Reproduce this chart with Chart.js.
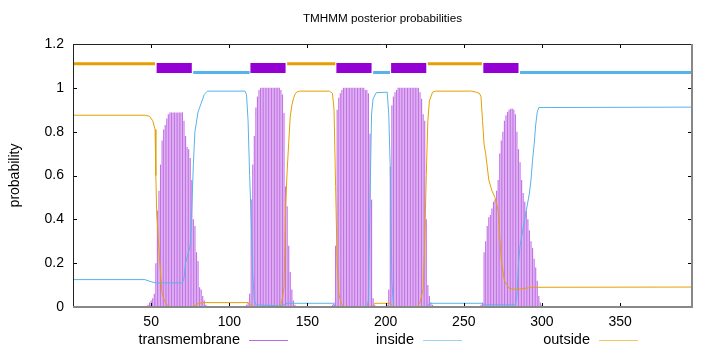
<!DOCTYPE html>
<html>
<head>
<meta charset="utf-8">
<script src="https://cdn.jsdelivr.net/npm/chart.js@4.4.1/dist/chart.umd.min.js"></script>
<style>
  body { margin: 0; background: #fff; }
  canvas { display: block; }
</style>
</head>
<body>
<canvas id="tmhmm" width="720" height="352"></canvas>
<script>
// posterior probabilities
// transmembrane: [first residue, values per residue]
var tmBlocks = [
  [48, [0.01, 0.02, 0.03, 0.04, 0.06, 0.2, 0.44, 0.53, 0.65, 0.76, 0.81, 0.83, 0.86, 0.88,
        0.888, 0.888, 0.888, 0.888, 0.888, 0.888, 0.888, 0.888, 0.888,
        0.85, 0.78, 0.73, 0.72, 0.68, 0.58, 0.40, 0.37, 0.25, 0.21, 0.09, 0.08, 0.05, 0.03, 0.01]],
  [111, [0.01, 0.02, 0.06, 0.49, 0.65, 0.78, 0.91, 0.96, 0.99,
         1, 1, 1, 1, 1, 1, 1, 1, 1, 1, 1, 1, 1,
         0.99, 0.97, 0.885, 0.55, 0.46, 0.28, 0.16, 0.08, 0.03, 0.01]],
  [166, [0.01, 0.02, 0.28, 0.9, 0.955, 0.975, 0.99,
         1, 1, 1, 1, 1, 1, 1, 1, 1, 1, 1, 1, 1, 1,
         0.99, 0.99, 0.975, 0.79, 0.49, 0.04, 0.01]],
  [201, [0.01, 0.08, 0.64, 0.92, 0.96, 0.98, 0.99,
         1, 1, 1, 1, 1, 1, 1, 1, 1, 1, 1, 1, 1, 1,
         0.98, 0.95, 0.88, 0.85, 0.4, 0.1, 0.05, 0.02, 0.01]],
  [261, [0.01, 0.02, 0.25, 0.3, 0.37, 0.41, 0.42, 0.45, 0.48, 0.49, 0.53, 0.58, 0.7, 0.76, 0.8,
         0.85, 0.875, 0.89, 0.9, 0.905, 0.906, 0.9, 0.88, 0.8, 0.72, 0.66, 0.58, 0.52, 0.48,
         0.44, 0.4, 0.35, 0.3, 0.27, 0.22, 0.18, 0.12, 0.05, 0.02, 0.01]]
];

// inside: [residue, probability]
var insideCurve = [
  [0, 0.125], [46, 0.125], [50, 0.115], [53, 0.11], [70, 0.11], [71, 0.13], [72, 0.2],
  [75, 0.28], [76, 0.45], [77, 0.65], [78, 0.8], [80, 0.89], [82, 0.93], [84, 0.97], [86, 0.985],
  [110, 0.985], [111, 0.97], [112, 0.85], [113, 0.6], [114, 0.4], [115, 0.15], [116, 0.03],
  [117, 0.01], [133, 0.005], [135, 0.01], [137, 0.017], [166, 0.017], [168, 0], [188, 0],
  [189, 0.03], [190, 0.49], [191, 0.88], [192, 0.95], [194, 0.978], [201, 0.98], [202, 0.88],
  [203, 0.625], [204, 0.12], [205, 0], [226, 0], [228, 0.017], [262, 0.017], [263, 0.01],
  [283, 0.01], [284, 0.05], [285, 0.2], [286, 0.28], [288, 0.36], [290, 0.44], [292, 0.52],
  [293, 0.58], [294, 0.67], [295, 0.74], [296, 0.83], [297, 0.89], [298, 0.91], [396, 0.912]
];

// outside: [residue, probability]
var outsideCurve = [
  [0, 0.875], [46, 0.875], [49, 0.87], [51, 0.85], [52.5, 0.81], [53, 0.6], [53.5, 0.44],
  [55, 0.26], [56, 0.155], [57, 0.06], [59, 0.02], [61.5, 0], [76, 0], [80, 0.015], [83, 0.02],
  [112, 0.02], [114, 0.01], [116, 0], [131, 0], [133, 0.01], [134, 0.04], [135, 0.09],
  [136, 0.45], [137, 0.62], [138, 0.75], [139, 0.87], [140, 0.92], [141, 0.95], [142, 0.97],
  [143, 0.98], [145, 0.985], [164, 0.985], [166, 0.975], [167, 0.9], [168, 0.55], [169, 0.2],
  [170, 0.06], [172, 0.01], [174, 0], [191, 0], [193, 0.017], [203, 0.017], [205, 0], [220, 0],
  [222, 0.02], [224, 0.08], [225, 0.3], [226, 0.6], [227, 0.85], [228, 0.94], [230, 0.98],
  [232, 0.985], [255, 0.985], [258, 0.98], [260, 0.975], [261, 0.96], [262, 0.85], [263, 0.74],
  [264, 0.7], [266, 0.58], [268, 0.53], [270, 0.5], [272, 0.44], [274, 0.21], [276, 0.12],
  [279, 0.085], [284, 0.08], [294, 0.09], [396, 0.091]
];

// predicted topology strip above the curves
var outsideRegions = [[0, 52.5], [137, 167.8], [227, 261.6]];
var insideRegions = [[76.9, 113], [192, 202.8], [286, 396]];
var tmRegions = [[53.5, 76], [113.5, 136], [168.5, 191], [203.5, 226], [262.5, 285]];
var outsideLevel = 1.11;
var insideLevel = 1.07;
var tmLevel = 1.091;

var xTicks = [50, 100, 150, 200, 250, 300, 350];
var yTicks = [0, 0.2, 0.4, 0.6, 0.8, 1, 1.2];
var legendLabels = ['transmembrane', 'inside', 'outside'];

var purple = '#9400d3';
var blue = '#56b4e9';
var orange = '#e69f00';
var font = 'Liberation Sans, Arial, sans-serif';

var tmPoints = [];
tmBlocks.forEach(function (b) {
  b[1].forEach(function (v, i) { tmPoints.push({ x: b[0] + i, y: v }); });
});

function toPoints(c) {
  return c.map(function (p) { return { x: p[0], y: p[1] }; });
}

function regionSets(regions, level, color, width, order) {
  return regions.map(function (r) {
    return {
      type: 'line',
      data: [{ x: r[0], y: level }, { x: r[1], y: level }],
      borderColor: color,
      borderWidth: width,
      borderCapStyle: 'butt',
      pointRadius: 0,
      order: order
    };
  });
}

var datasets = [{
  type: 'bar',
  label: 'transmembrane',
  data: tmPoints,
  backgroundColor: 'rgba(148,0,211,0.55)',
  borderWidth: 0,
  barPercentage: 0.75,
  categoryPercentage: 1,
  order: 5
}, {
  type: 'line',
  label: 'inside',
  data: toPoints(insideCurve),
  borderColor: blue,
  borderWidth: 1,
  pointRadius: 0,
  tension: 0,
  order: 2
}, {
  type: 'line',
  label: 'outside',
  data: toPoints(outsideCurve),
  borderColor: orange,
  borderWidth: 1,
  pointRadius: 0,
  tension: 0,
  order: 1
}];
datasets = datasets
  .concat(regionSets(outsideRegions, outsideLevel, orange, 3, 1))
  .concat(regionSets(insideRegions, insideLevel, blue, 3, 1))
  .concat(regionSets(tmRegions, tmLevel, purple, 10, 0));

var decorations = {
  id: 'decorations',
  afterDraw: function (chart) {
    var ctx = chart.ctx, a = chart.chartArea;
    var x = chart.scales.x, y = chart.scales.y;
    ctx.save();
    ctx.strokeStyle = '#000';
    ctx.lineWidth = 1;
    ctx.beginPath();
    yTicks.forEach(function (v) {
      var py = Math.round(y.getPixelForValue(v)) + 0.5;
      ctx.moveTo(a.left, py); ctx.lineTo(a.left + 4, py);
      ctx.moveTo(a.right, py); ctx.lineTo(a.right - 4, py);
    });
    xTicks.forEach(function (v) {
      var px = Math.round(x.getPixelForValue(v)) + 0.5;
      ctx.moveTo(px, a.bottom); ctx.lineTo(px, a.bottom - 4);
      ctx.moveTo(px, a.top); ctx.lineTo(px, a.top + 4);
    });
    ctx.stroke();

    // border
    ctx.strokeStyle = '#222';
    ctx.beginPath();
    ctx.moveTo(a.left + 0.5, a.bottom); ctx.lineTo(a.left + 0.5, a.top + 0.5);
    ctx.lineTo(a.right, a.top + 0.5);
    ctx.stroke();
    ctx.strokeStyle = '#888';
    ctx.lineWidth = 2;
    ctx.beginPath();
    ctx.moveTo(a.right, a.top); ctx.lineTo(a.right, a.bottom);
    ctx.lineTo(a.left, a.bottom);
    ctx.stroke();

    // title and axis label
    ctx.fillStyle = '#000';
    ctx.textAlign = 'center';
    ctx.textBaseline = 'middle';
    ctx.font = '11.7px ' + font;
    ctx.fillText('TMHMM posterior probabilities', (a.left + a.right) / 2, 19);
    ctx.save();
    ctx.translate(15, (a.top + a.bottom) / 2);
    ctx.rotate(-Math.PI / 2);
    ctx.font = '14px ' + font;
    ctx.fillText('probability', 0, 0);
    ctx.restore();

    // legend
    var legendEnds = [240, 414, 590];
    var colors = [purple, blue, orange];
    ctx.font = '14.5px ' + font;
    ctx.textAlign = 'right';
    ctx.lineWidth = 1;
    legendLabels.forEach(function (t, i) {
      ctx.fillText(t, legendEnds[i], 340);
      ctx.strokeStyle = colors[i];
      ctx.globalAlpha = 0.6;
      ctx.beginPath();
      ctx.moveTo(legendEnds[i] + 9, 340.5);
      ctx.lineTo(legendEnds[i] + 48, 340.5);
      ctx.stroke();
      ctx.globalAlpha = 1;
    });
    ctx.restore();
  }
};

new Chart(document.getElementById('tmhmm'), {
  type: 'bar',
  data: { datasets: datasets },
  options: {
    responsive: false,
    animation: false,
    devicePixelRatio: 1,
    layout: { padding: { top: 44, right: 28, left: 0, bottom: 0 } },
    plugins: { legend: { display: false }, title: { display: false }, tooltip: { enabled: false } },
    scales: {
      x: {
        type: 'linear',
        min: 0,
        max: 396,
        offset: false,
        grid: { display: false, drawTicks: false },
        border: { display: false },
        afterBuildTicks: function (s) { s.ticks = xTicks.map(function (v) { return { value: v }; }); },
        afterFit: function (s) { s.height = 45; },
        ticks: { padding: 7, color: '#000', font: { family: font, size: 14 }, maxRotation: 0 }
      },
      y: {
        min: 0,
        max: 1.2,
        grid: { display: false, drawTicks: false },
        border: { display: false },
        afterBuildTicks: function (s) { s.ticks = yTicks.map(function (v) { return { value: v }; }); },
        afterFit: function (s) { s.width = 73; },
        ticks: {
          padding: 9, color: '#000', font: { family: font, size: 14 },
          callback: function (v) { return String(+v.toFixed(1)); }
        }
      }
    }
  },
  plugins: [decorations]
});
</script>
</body>
</html>
